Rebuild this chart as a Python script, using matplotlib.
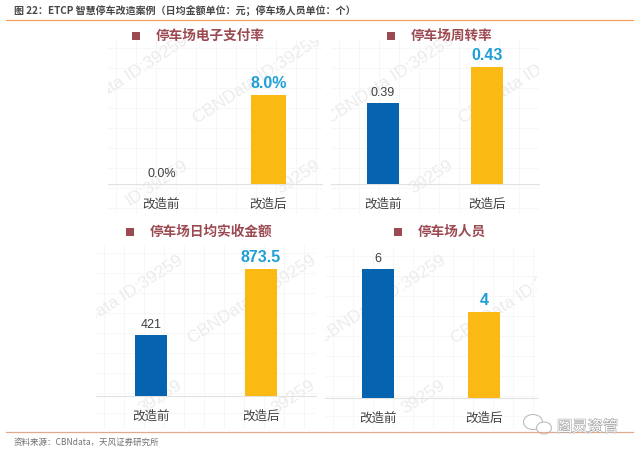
import numpy as np
import matplotlib
matplotlib.use("Agg")
import matplotlib.pyplot as plt
from matplotlib.patches import Ellipse, Rectangle
import matplotlib.patheffects as pe

plt.rcParams['font.family'] = ['Noto Sans CJK SC', 'DejaVu Sans']

W, H = 640, 455

categories = ["改造前", "改造后"]
titles = ["停车场电子支付率", "停车场周转率", "停车场日均实收金额", "停车场人员"]
pay_rate = [0.0, 8.0]
turnover = [0.39, 0.43]
revenue = [421, 873.5]
staff = [6, 4]
pay_labels = ["0.0%", "8.0%"]
turnover_labels = ["0.39", "0.43"]
revenue_labels = ["421", "873.5"]
staff_labels = ["6", "4"]

BLUE = "#0563b0"
YELLOW = "#fbb913"
TITLE = "#9c4a52"
VALUE = "#1f9fd6"

WM_LONG = "CBNData ID:39259"
WM_MID = "ID:39259"
WM_SHORT = "39259"

# box is x0, x1, top, baseline, bottom of grid in pixels; wm holds the end point of each watermark
panels = [
    dict(vals=pay_rate, labs=pay_labels, title=titles[0], box=(108, 322, 40, 184, 214), ylim=(0, 12.94), bw=0.32,
         tx=156, sx=132, ty=36,
         wm=[(190, 45, WM_LONG), (323, 45, WM_LONG), (190, 170, WM_MID), (323, 170, WM_SHORT)]),
    dict(vals=turnover, labs=turnover_labels, title=titles[1], box=(331, 539, 40, 184, 214), ylim=(0.30, 0.46), bw=0.31,
         tx=411, sx=387, ty=36,
         wm=[(456, 45, WM_LONG), (589, 45, WM_LONG), (456, 170, WM_SHORT)]),
    dict(vals=revenue, labs=revenue_labels, title=titles[2], box=(96, 316, 245, 396, 428), ylim=(0, 1040), bw=0.29,
         tx=150, sx=126, ty=232,
         wm=[(185, 265, WM_LONG), (318, 265, WM_LONG), (185, 390, WM_SHORT), (318, 390, WM_SHORT)]),
    dict(vals=staff, labs=staff_labels, title=titles[3], box=(325, 537, 248, 398, 428), ylim=(0, 7), bw=0.31,
         tx=418, sx=394, ty=232,
         wm=[(448, 265, WM_LONG), (581, 265, WM_LONG), (448, 390, WM_SHORT)]),
]


def px_axes(x0, x1, top, bottom, **kw):
    return fig.add_axes([x0 / W, 1 - bottom / H, (x1 - x0) / W, (bottom - top) / H], **kw)


fig = plt.figure(figsize=(W / 100, H / 100), dpi=100, facecolor="white")

for p in panels:
    x0, x1, top, base, grid_bottom = p["box"]

    # faint grid and watermark behind the bars
    bg = px_axes(x0, x1, top, grid_bottom)
    bg.set_xlim(x0, x1)
    bg.set_ylim(grid_bottom, top)
    bg.set_xticks(np.arange(x0 + 8, x1, 20))
    bg.set_yticks(np.arange(top + 8, grid_bottom, 20))
    bg.grid(color="#f6f6f6", lw=0.6)
    bg.tick_params(length=0, labelbottom=False, labelleft=False)
    for s in bg.spines.values():
        s.set_visible(False)
    for ex, ey, mark in p["wm"]:
        bg.text(ex, ey, mark, rotation=33, rotation_mode="anchor", ha="right", va="bottom",
                fontsize=12.5, color="#ececec", family="Liberation Sans", clip_on=True)

    ax = px_axes(x0, x1, top, base)
    ax.patch.set_alpha(0)
    xs = np.arange(len(categories))
    ax.bar(xs, p["vals"], width=p["bw"], color=[BLUE, YELLOW], zorder=3)
    ax.set_xlim(-0.5, 1.5)
    ax.set_ylim(*p["ylim"])
    ax.set_yticks([])
    ax.set_xticks(xs, categories, fontsize=9, color="#404040")
    ax.tick_params(axis="x", length=0, pad=10)
    for s in ["top", "left", "right"]:
        ax.spines[s].set_visible(False)
    ax.spines["bottom"].set_color("#e2e2e2")
    ax.spines["bottom"].set_linewidth(0.8)

    for i, (v, lab) in enumerate(zip(p["vals"], p["labs"])):
        if i == 0:
            ax.annotate(lab, (i, v), xytext=(0, 3), textcoords="offset points", ha="center", va="bottom",
                        fontsize=9, color="#404040", family="Liberation Sans", zorder=4)
        else:
            ax.annotate(lab, (i, v), xytext=(0, 3), textcoords="offset points", ha="center", va="bottom",
                        fontsize=11.5, color=VALUE, family="Liberation Sans", weight="bold", zorder=4)

    fig.text(p["tx"] / W, 1 - p["ty"] / H, p["title"], fontsize=9.8, weight="bold", color=TITLE, va="center")
    fig.add_artist(Rectangle((p["sx"] / W, 1 - (p["ty"] + 4) / H), 8 / W, 8 / H, transform=fig.transFigure,
                             facecolor=TITLE, edgecolor="none"))

# header and footer
fig.text(14 / W, 1 - 10 / H, "图 22：ETCP 智慧停车改造案例（日均金额单位：元；停车场人员单位：个）",
         fontsize=7.2, weight="bold", color="#484848", va="center")
fig.text(14 / W, 1 - 442 / H, "资料来源：CBNdata，天风证券研究所", fontsize=6.1, color="#707070", va="center")
fig.add_artist(plt.Line2D([6 / W, 633 / W], [1 - 20 / H, 1 - 20 / H], color="#f2a162", lw=0.9))
fig.add_artist(plt.Line2D([6 / W, 633 / W], [1 - 432 / H, 1 - 432 / H], color="#e3a98a", lw=0.9))

# WeChat mark in the corner
fig.add_artist(Ellipse((533 / W, 1 - 422 / H), 19 / W, 15 / H, transform=fig.transFigure, facecolor="white",
                       edgecolor="#bdbdbd", lw=0.8))
fig.add_artist(Ellipse((544 / W, 1 - 428 / H), 15 / W, 12 / H, transform=fig.transFigure, facecolor="white",
                       edgecolor="#bdbdbd", lw=0.8))
fig.text(557 / W, 1 - 427 / H, "图灵资管", fontsize=11, color="white", va="center",
         path_effects=[pe.withStroke(linewidth=0.8, foreground="#a0a0a0")])

fig.savefig("out.png", dpi=100)
